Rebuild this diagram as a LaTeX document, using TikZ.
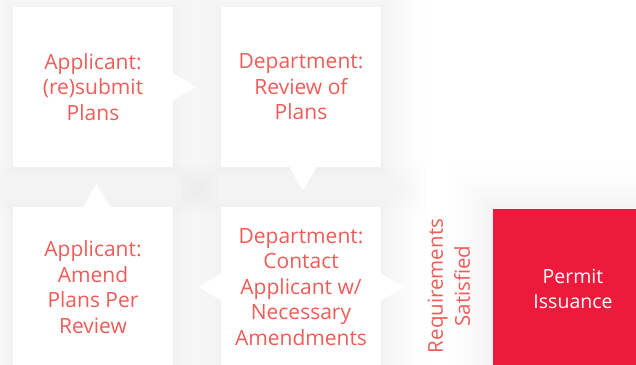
\documentclass[tikz,border=0pt]{standalone}
\usepackage{fontspec}
\setmainfont{Open Sans}
\usetikzlibrary{calc}
\definecolor{txtred}{RGB}{240,92,88}
\definecolor{boxred}{RGB}{237,26,59}
\pgfdeclarelayer{bg}
\pgfdeclarelayer{shade}
\pgfsetlayers{bg,shade,main}
\tikzset{
  card/.style={fill=white, minimum width=160pt, minimum height=160pt, inner sep=0pt,
    text=txtred, align=center, font=\fontsize{21}{25.5}\selectfont},
  redcard/.style={card, fill=boxred, text=white, font=\fontsize{19.5}{25}\selectfont},
  tip/.style={fill=white, draw=none},
  shadelayer/.style={fill=black, opacity=0.0045},
  lbl/.style={text=txtred, align=center, font=\fontsize{20.5}{27}\selectfont, rotate=90, inner sep=0pt}
}
\newcommand\softshadow[1]{%
  \foreach \i in {1,...,15} {%
    \pgfmathsetmacro\dd{0.2*\i*\i}%
    \fill[shadelayer] ($(#1.south west)+(-\dd,\dd+2)$) rectangle ($(#1.north east)+(\dd,-\dd+2)$);
  }}
\begin{document}
\begin{tikzpicture}[x=1pt,y=-1pt]
\useasboundingbox (0,0) rectangle (636,364);
\clip (0,0) rectangle (636,364);
\node[card] (a) at (93,87) {Applicant:\\(re)submit\\Plans};
\node[card] (b) at (301,87) {Department:\\Review of\\Plans};
\node[card] (c) at (93,287) {Applicant:\\Amend\\Plans Per\\Review};
\node[card] (d) at (301,287) {Department:\\Contact\\Applicant w/\\Necessary\\Amendments};
\node[redcard] (e) at (573,289) {Permit\\Issuance};
\node[lbl] (l) at (449,286) {Requirements\\Satisfied};
% pointers
\fill[tip] ($(a.east)+(0,-13.5)$) -- ($(a.east)+(23,0)$) -- ($(a.east)+(0,13.5)$) -- cycle;
\fill[tip] ($(b.south)+(-11.5,0)$) -- ($(b.south)+(1.5,23)$) -- ($(b.south)+(15.5,0)$) -- cycle;
\fill[tip] ($(c.north)+(-10,0)$) -- ($(c.north)+(3.5,-23)$) -- ($(c.north)+(17,0)$) -- cycle;
\fill[tip] ($(d.west)+(0,-13.5)$) -- ($(d.west)+(-22,0)$) -- ($(d.west)+(0,13.5)$) -- cycle;
\fill[tip] ($(d.east)+(0,-13.5)$) -- ($(d.east)+(23,0)$) -- ($(d.east)+(0,13.5)$) -- cycle;
\begin{pgfonlayer}{bg}
  \fill[white] (0,0) rectangle (636,364);
\end{pgfonlayer}
\begin{pgfonlayer}{shade}
  \softshadow{a}\softshadow{b}\softshadow{c}\softshadow{d}\softshadow{e}
\end{pgfonlayer}
\end{tikzpicture}
\end{document}
